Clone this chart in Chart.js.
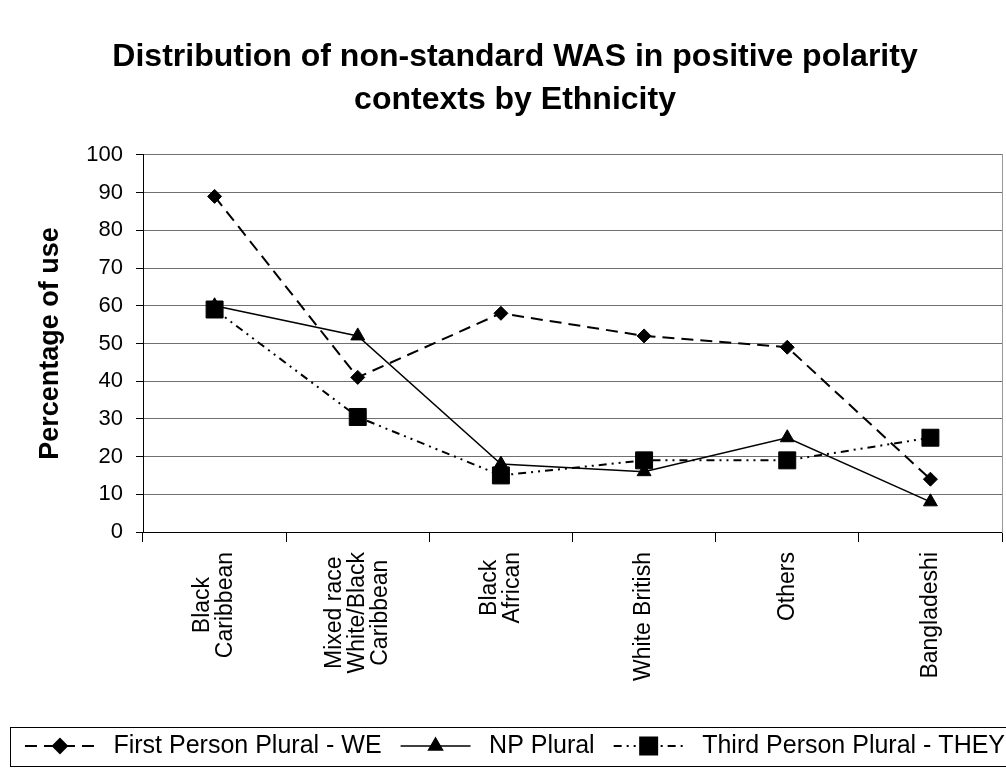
<!DOCTYPE html>
<html>
<head>
<meta charset="utf-8">
<script src="https://cdn.jsdelivr.net/npm/chart.js@4/dist/chart.umd.min.js"></script>
<style>
  html, body { margin: 0; padding: 0; background: #fff; overflow: hidden; }
  #view { width: 1006px; height: 769px; overflow: hidden; }
  #wrap { width: 1034px; height: 769px; position: relative; }
</style>
</head>
<body>
<div id="view"><div id="wrap"><canvas id="chart"></canvas></div></div>
<script>
const categories = [
  ["Black", "Caribbean"],
  ["Mixed race", "White/Black", "Caribbean"],
  ["Black", "African"],
  ["White British"],
  ["Others"],
  ["Bangladeshi"],
];
const firstPersonWE = [89, 41, 58, 52, 49, 14];
const npPlural = [60, 52, 18, 16, 25, 8];
const thirdPersonTHEY = [59, 30.5, 15, 19, 19, 25];
const yTicks = [0, 10, 20, 30, 40, 50, 60, 70, 80, 90, 100];

const FONT = '"Liberation Sans", Arial, sans-serif';
Chart.defaults.font.family = FONT;
Chart.defaults.color = "#000";

// etiquetas do eixo x centradas (linhas centradas entre si)
const xLabelsPlugin = {
  id: "xLabels",
  afterDraw(chart) {
    const ctx = chart.ctx;
    const xs = chart.scales.x;
    ctx.save();
    ctx.font = "23px " + FONT;
    ctx.fillStyle = "#000";
    ctx.textAlign = "center";
    ctx.textBaseline = "middle";
    categories.forEach((lines, i) => {
      const cx = xs.getPixelForTick(i);
      const maxW = Math.max(...lines.map((l) => ctx.measureText(l).width));
      const cy = xs.top + 20 + maxW / 2;
      ctx.save();
      ctx.translate(cx, cy);
      ctx.rotate(-Math.PI / 2);
      lines.forEach((l, j) => ctx.fillText(l, 0, (j - (lines.length - 1) / 2) * 23));
      ctx.restore();
    });
    ctx.restore();
  },
};

// legenda: caixa + linha tracejada com marcador
const ICON_W = 70;
const legendIconsPlugin = {
  id: "legendIcons",
  afterDraw(chart) {
    const { ctx } = chart;
    const lg = chart.legend;
    const hbs = lg.legendHitBoxes;
    const cy = hbs[0].top + hbs[0].height / 2;
    ctx.save();
    ctx.strokeStyle = "#000";
    ctx.lineWidth = 1;
    ctx.strokeRect(10.5, Math.round(cy - 19) + 0.5, chart.width + 20, 39);
    hbs.forEach((hb, i) => {
      const ds = chart.data.datasets[i];
      const y = hb.top + hb.height / 2;
      ctx.save();
      ctx.strokeStyle = "#000";
      ctx.lineWidth = ds.borderWidth;
      ctx.setLineDash(ds.borderDash || []);
      ctx.beginPath();
      ctx.moveTo(hb.left, y);
      ctx.lineTo(hb.left + ICON_W, y);
      ctx.stroke();
      ctx.setLineDash([]);
      ctx.fillStyle = "#000";
      Chart.helpers.drawPoint(ctx, {
        pointStyle: ds.pointStyle,
        radius: ds.pointRadius,
        rotation: 0,
        borderWidth: 1,
      }, hb.left + ICON_W / 2, y);
      ctx.restore();
    });
    ctx.restore();
  },
};

const ctx = document.getElementById("chart").getContext("2d");

const chart = new Chart(ctx, {
  type: "line",
  data: {
    labels: categories.map((c) => c.join(" ")),
    datasets: [
      {
        label: "First Person Plural - WE",
        data: firstPersonWE,
        borderColor: "#000",
        backgroundColor: "#000",
        borderWidth: 2,
        borderDash: [12, 7],
        pointStyle: "rectRot",
        pointRadius: 7,
        pointBorderWidth: 1,
        tension: 0,
      },
      {
        label: "NP Plural",
        data: npPlural,
        borderColor: "#000",
        backgroundColor: "#000",
        borderWidth: 1.5,
        pointStyle: "triangle",
        pointRadius: 8,
        pointBorderWidth: 1,
        tension: 0,
      },
      {
        label: "Third Person Plural - THEY",
        data: thirdPersonTHEY,
        borderColor: "#000",
        backgroundColor: "#000",
        borderWidth: 2,
        borderDash: [8, 5, 2, 5, 2, 5],
        pointStyle: "rect",
        pointRadius: 12,
        pointBorderWidth: 1,
        tension: 0,
      },
    ],
  },
  options: {
    responsive: true,
    maintainAspectRatio: false,
    animation: false,
    layout: { padding: { left: 0, right: 4, top: 0, bottom: 0.5 } },
    scales: {
      x: {
        type: "category",
        offset: true,
        grid: { offset: true, drawOnChartArea: false, tickLength: 10, color: "#000" },
        border: { color: "#000", width: 1 },
        ticks: { display: false },
        afterFit: (s) => { s.height = 182.5; },
      },
      y: {
        min: 0,
        max: 100,
        afterBuildTicks: (s) => { s.ticks = yTicks.map((v) => ({ value: v })); },
        ticks: { font: { size: 22 }, color: "#000", padding: 13 },
        grid: { color: "#707070", tickColor: "#000", tickLength: 7, lineWidth: 1 },
        border: { color: "#000", width: 1 },
        title: {
          display: true,
          text: "Percentage of use",
          font: { size: 27, weight: "bold" },
          color: "#000",
          padding: { top: 34, bottom: 0 },
        },
        afterFit: (s) => { s.width = 143; },
      },
      // eixo direito só para a borda cinza da área do gráfico
      yRight: {
        position: "right",
        min: 0,
        max: 100,
        grid: { drawOnChartArea: false, drawTicks: false },
        ticks: { display: false },
        border: { color: "#999", width: 1 },
        afterFit: (s) => { s.width = 28; },
      },
    },
    plugins: {
      title: {
        display: true,
        text: ["Distribution of non-standard WAS in positive polarity", "contexts by Ethnicity"],
        font: { size: 32, weight: "bold", lineHeight: 1.35 },
        color: "#000",
        padding: { top: 35.5, bottom: 33 },
      },
      legend: {
        display: true,
        position: "bottom",
        labels: {
          usePointStyle: true,
          pointStyleWidth: 76,
          padding: 19,
          font: { size: 25 },
          color: "#000",
          generateLabels: (chart) => chart.data.datasets.map((ds, i) => ({
            text: ds.label,
            fillStyle: "rgba(0,0,0,0)",
            strokeStyle: "rgba(0,0,0,0)",
            lineWidth: 0,
            pointStyle: "line",
            datasetIndex: i,
            hidden: false,
          })),
        },
      },
      tooltip: { enabled: false },
    },
  },
  plugins: [xLabelsPlugin, legendIconsPlugin],
});
</script>
</body>
</html>
